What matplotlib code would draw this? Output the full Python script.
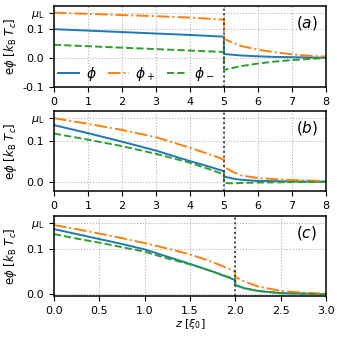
import matplotlib
matplotlib.use("Agg")
import matplotlib.pyplot as plt

# chemical potential of the left lead
mu_L = 0.157

# panel (a)
z_a = [0, 1, 2, 3, 4, 5, 5, 5.5, 6, 6.5, 7, 7.5, 8]
phi_a = [0.100, 0.095, 0.090, 0.085, 0.080, 0.074, 0.014, 0.009, 0.006, 0.004, 0.003, 0.002, 0.001]
plus_a = [0.157, 0.153, 0.149, 0.145, 0.140, 0.133, 0.066, 0.042, 0.029, 0.020, 0.013, 0.008, 0.005]
minus_a = [0.046, 0.041, 0.036, 0.031, 0.026, 0.021, -0.041, -0.028, -0.019, -0.012, -0.007, -0.003, 0.000]

# panel (b)
z_b = [0, 1, 2, 3, 4, 4.5, 5, 5, 5.25, 5.5, 6, 7, 8]
phi_b = [0.140, 0.120, 0.099, 0.077, 0.051, 0.039, 0.026, 0.013, 0.008, 0.005, 0.002, 0.001, 0.0]
plus_b = [0.157, 0.143, 0.128, 0.110, 0.084, 0.070, 0.055, 0.037, 0.025, 0.016, 0.009, 0.004, 0.002]
minus_b = [0.119, 0.104, 0.088, 0.069, 0.047, 0.033, 0.018, -0.003, -0.004, -0.003, -0.002, -0.001, 0.0]

# panel (c)
z_c = [0, 0.25, 0.5, 0.75, 1.0, 1.25, 1.5, 1.75, 2.0, 2.0, 2.1, 2.25, 2.5, 2.75, 3.0]
phi_c = [0.144, 0.133, 0.122, 0.111, 0.099, 0.083, 0.067, 0.050, 0.031, 0.020, 0.013, 0.007, 0.002, 0.001, 0.0]
plus_c = [0.153, 0.144, 0.134, 0.124, 0.113, 0.101, 0.088, 0.071, 0.050, 0.038, 0.028, 0.017, 0.007, 0.003, 0.001]
minus_c = [0.133, 0.123, 0.114, 0.104, 0.094, 0.079, 0.066, 0.050, 0.033, 0.020, 0.013, 0.007, 0.002, 0.001, 0.0]

panels = [
    (z_a, phi_a, plus_a, minus_a, 5, (0, 8), (-0.1, 0.18), [-0.1, 0.0, 0.1], "$(a)$"),
    (z_b, phi_b, plus_b, minus_b, 5, (0, 8), (-0.023, 0.175), [0.0, 0.1], "$(b)$"),
    (z_c, phi_c, plus_c, minus_c, 2, (0, 3), (-0.004, 0.173), [0.0, 0.1], "$(c)$"),
]

plt.rcParams['font.size'] = 8
plt.rcParams['axes.linewidth'] = 1.1
fig = plt.figure(figsize=(3.37, 3.37), dpi=100)
boxes = [(0.982, 0.742), (0.671, 0.433), (0.359, 0.122)]
left, right = 0.16, 0.967

for i, (z, phi, plus, minus, zj, xl, yl, yt, lab) in enumerate(panels):
    top, bot = boxes[i]
    ax = fig.add_axes([left, bot, right - left, top - bot])
    ax.plot(z, phi, color='C0', lw=1.4, ls='-', label=r'$\phi$')
    ax.plot(z, plus, color='C1', lw=1.4, ls='-.', label=r'$\phi_+$')
    ax.plot(z, minus, color='C2', lw=1.4, ls='--', label=r'$\phi_-$')
    ax.axvline(zj, color='0.2', ls=':', lw=1.3)
    ax.set_xlim(*xl)
    ax.set_ylim(*yl)
    ax.set_yticks(yt + [mu_L])
    ax.set_yticklabels(['%.1f' % v for v in yt] + [r'$\mu_\mathrm{L}$'])
    ax.grid(True, ls=':', color='0.7', lw=0.8)
    ax.set_ylabel(r'e$\phi$ [$k_\mathrm{B}\ T_c$]', fontsize=8.5, va='center')
    ax.yaxis.set_label_coords(-0.158, 0.5)
    ax.text(0.93, 0.79, lab, transform=ax.transAxes, fontsize=11, ha='center', va='center')
    if i == 0:
        ax.legend(loc='lower left', ncol=3, frameon=False, fontsize=10,
                  handlelength=1.5, columnspacing=0.8, handletextpad=0.5,
                  borderaxespad=0.0, borderpad=0.3)
    if i == 2:
        ax.set_xlabel(r'$z$ [$\xi_0$]', labelpad=1)

fig.savefig('out.png', dpi=100)
